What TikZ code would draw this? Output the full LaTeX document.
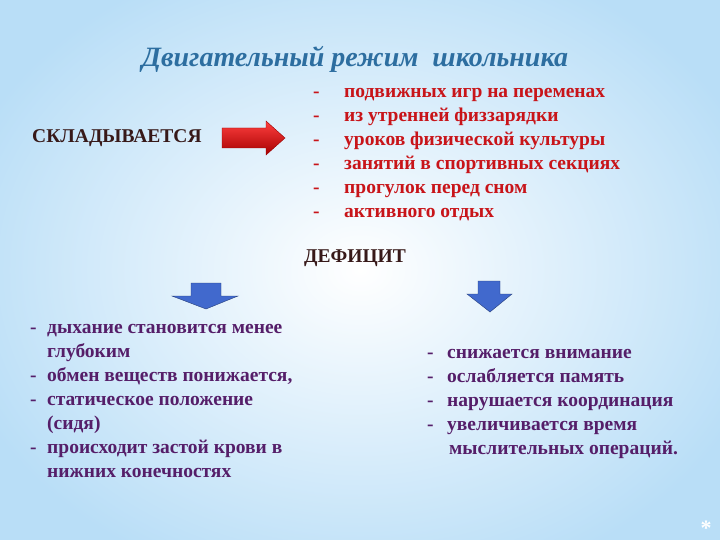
\documentclass[tikz,border=0pt]{standalone}
\usepackage{fontspec}
\setmainfont{Liberation Serif}
\definecolor{titleblue}{RGB}{45,110,160}
\definecolor{redtxt}{RGB}{200,20,25}
\definecolor{purp}{RGB}{85,30,105}
\definecolor{darktxt}{RGB}{55,25,25}
\definecolor{bgblue}{RGB}{185,222,247}
\definecolor{arrblue}{RGB}{65,105,205}
\tikzset{
  lst/.style={anchor=west,font=\bfseries\fontsize{19.5}{24}\selectfont,align=left,inner sep=0pt},
  lbl/.style={font=\bfseries\fontsize{19.5}{22}\selectfont,text=darktxt,inner sep=0pt}
}
\begin{document}
\begin{tikzpicture}[x=1pt,y=-1pt]
\useasboundingbox (0,0) rectangle (720,540);
\shade[inner color=white,outer color=bgblue] (-60,-60) rectangle (780,600);
\node[font=\bfseries\itshape\fontsize{28}{30}\selectfont,text=titleblue] (title) at (355,59) {Двигательный режим\ \ школьника};
\node[lbl,anchor=west] (skl) at (32,138) {СКЛАДЫВАЕТСЯ};
\shade[top color=red!75!white,bottom color=red!65!black,draw=red!60!black,line width=0.4pt]
  (222,128) -- (266,128) -- (266,121) -- (285,138) -- (266,155) -- (266,148) -- (222,148) -- cycle;
\node[lst,text=redtxt] (l1) at (313,155) {%
\makebox[31pt][l]{-}подвижных игр на переменах\\
\makebox[31pt][l]{-}из утренней физзарядки\\
\makebox[31pt][l]{-}уроков физической культуры\\
\makebox[31pt][l]{-}занятий в спортивных секциях\\
\makebox[31pt][l]{-}прогулок перед сном\\
\makebox[31pt][l]{-}активного отдых};
\node[lbl] (def) at (355,258) {ДЕФИЦИТ};
\fill[arrblue,draw=arrblue!60!black,line width=0.4pt]
  (191,283) -- (221,283) -- (221,296) -- (238,296) -- (206,309) -- (172,296) -- (191,296) -- cycle;
\fill[arrblue,draw=arrblue!60!black,line width=0.4pt]
  (478,281) -- (500,281) -- (500,294) -- (512,294) -- (490,312) -- (467,294) -- (478,294) -- cycle;
\node[lst,text=purp] (left) at (30,401) {%
\makebox[17pt][l]{-}дыхание становится менее\\
\hspace*{17pt}глубоким\\
\makebox[17pt][l]{-}обмен веществ понижается,\\
\makebox[17pt][l]{-}статическое положение\\
\hspace*{17pt}(сидя)\\
\makebox[17pt][l]{-}происходит застой крови в\\
\hspace*{17pt}нижних конечностях};
\node[lst,text=purp] (right) at (427,404) {%
\makebox[20pt][l]{-}снижается внимание\\
\makebox[20pt][l]{-}ослабляется память\\
\makebox[20pt][l]{-}нарушается координация\\
\makebox[20pt][l]{-}увеличивается время\\
\hspace*{22pt}мыслительных операций.};
\node[text=white,font=\bfseries\fontsize{22}{22}\selectfont] (star) at (706,528) {*};
\end{tikzpicture}
\end{document}
